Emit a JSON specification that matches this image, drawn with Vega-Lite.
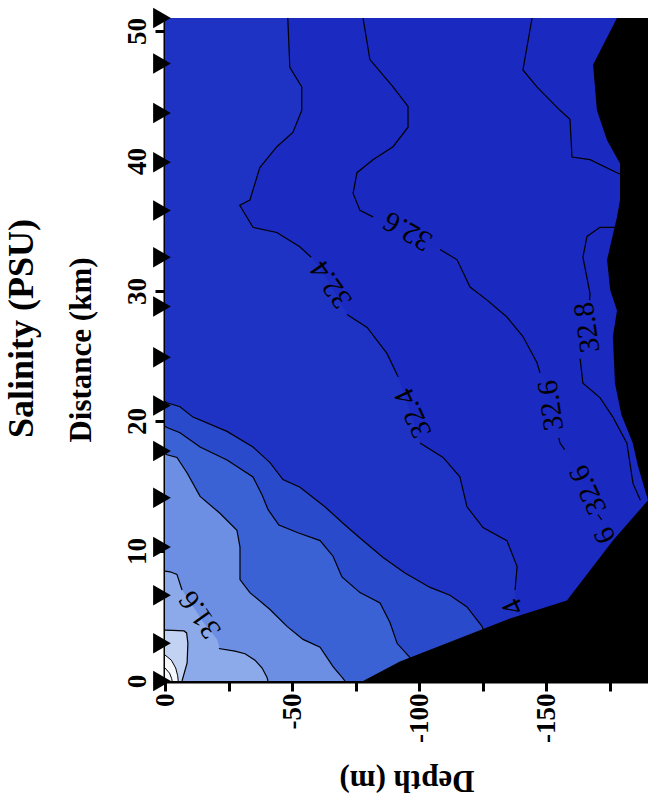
{
  "$schema": "https://vega.github.io/schema/vega-lite/v6.json",
  "width": 483,
  "height": 663,
  "autosize": "none",
  "padding": {"left": 165, "top": 18, "right": 0, "bottom": 119},
  "background": "white",
  "title": {"text": "Salinity (PSU)", "orient": "left", "anchor": "middle", "font": "Liberation Serif", "fontWeight": "bold", "fontSize": 36, "color": "black", "offset": 24, "dx": 21},
  "config": {
    "view": {"stroke": null, "fill": "#1a29bf"},
    "axis": {"labelFont": "Liberation Serif", "labelFontWeight": "bold", "labelFontSize": 27, "labelColor": "black", "titleFont": "Liberation Serif", "titleFontWeight": "bold", "titleFontSize": 31, "titleColor": "black", "domainColor": "black", "domainWidth": 4, "tickColor": "black", "tickWidth": 3, "tickSize": 10, "grid": false}
  },
  "datasets": {
    "terrain": [
      {"km": 0, "d": -77.9}, {"km": 1.5, "d": -92.4}, {"km": 4.8, "d": -135.7}, {"km": 6.2, "d": -158.1}, {"km": 10.8, "d": -176.2}, {"km": 13.9, "d": -190}, {"km": 16.5, "d": -186.1}, {"km": 18.3, "d": -184}, {"km": 20.5, "d": -179.5}, {"km": 22.9, "d": -177}, {"km": 26.5, "d": -176.2}, {"km": 28.5, "d": -177.8}, {"km": 30.1, "d": -175.1}, {"km": 32.4, "d": -173.9}, {"km": 35.7, "d": -177.8}, {"km": 37, "d": -179}, {"km": 39.8, "d": -179}, {"km": 41.6, "d": -173.9}, {"km": 43.9, "d": -169.9}, {"km": 47.4, "d": -168.4}, {"km": 51, "d": -177.8}
    ],
    "b326": [
      {"km": 0, "d": -190}, {"km": 10.0, "d": -190}, {"km": 10.5, "d": -178}, {"km": 12.9, "d": -171.1}, {"km": 14.7, "d": -166}, {"km": 16.5, "d": -161.3}, {"km": 17.8, "d": -157.4}, {"km": 18.3, "d": -155.4}, {"km": 19.1, "d": -154.6}, {"km": 21.2, "d": -151.5}, {"km": 23.3, "d": -149.5}, {"km": 23.7, "d": -147.5}, {"km": 24.5, "d": -146.3}, {"km": 26.5, "d": -140.8}, {"km": 28.0, "d": -134.5}, {"km": 29.3, "d": -126.7}, {"km": 30.3, "d": -120.0}, {"km": 32.4, "d": -114.9}, {"km": 33.2, "d": -108.2}, {"km": 34.2, "d": -96}, {"km": 35.5, "d": -84.6}, {"km": 35.7, "d": -81.8}, {"km": 36.2, "d": -76.7}, {"km": 37.5, "d": -74.0}, {"km": 39.1, "d": -75.5}, {"km": 40.1, "d": -81.8}, {"km": 41.1, "d": -89.7}, {"km": 42.6, "d": -95.6}, {"km": 44.2, "d": -95.6}, {"km": 45.7, "d": -89.7}, {"km": 47.8, "d": -80.6}, {"km": 51, "d": -77.9}
    ],
    "b324": [
      {"km": 0, "d": -150}, {"km": 4.5, "d": -145}, {"km": 5.3, "d": -138}, {"km": 7.0, "d": -137.7}, {"km": 8.8, "d": -138.5}, {"km": 10.8, "d": -134.5}, {"km": 11.8, "d": -125.1}, {"km": 13.4, "d": -118.8}, {"km": 15.7, "d": -116}, {"km": 17.2, "d": -109.4}, {"km": 18.3, "d": -100.3}, {"km": 20.8, "d": -96.3}, {"km": 23.4, "d": -91.7}, {"km": 25.2, "d": -87.3}, {"km": 27.2, "d": -79.5}, {"km": 28.2, "d": -71.6}, {"km": 30.5, "d": -65}, {"km": 32.5, "d": -58.1}, {"km": 33.4, "d": -53}, {"km": 34.5, "d": -44}, {"km": 34.9, "d": -34.6}, {"km": 36.6, "d": -29.4}, {"km": 37, "d": -33.4}, {"km": 39.5, "d": -37.3}, {"km": 41.1, "d": -44}, {"km": 42.2, "d": -50.3}, {"km": 43.9, "d": -53.8}, {"km": 45.7, "d": -53.8}, {"km": 47.2, "d": -49.1}, {"km": 51, "d": -48.3}
    ],
    "b322": [
      {"km": 0, "d": -130}, {"km": 3.0, "d": -127}, {"km": 4.2, "d": -124.7}, {"km": 5.7, "d": -118.8}, {"km": 6.6, "d": -112.1}, {"km": 7.2, "d": -104.3}, {"km": 8.3, "d": -94.4}, {"km": 9.5, "d": -85.8}, {"km": 11.0, "d": -76.7}, {"km": 12.0, "d": -70.8}, {"km": 13.4, "d": -62.9}, {"km": 14.9, "d": -53.1}, {"km": 15.5, "d": -46.4}, {"km": 16.8, "d": -41.3}, {"km": 18.0, "d": -34.6}, {"km": 19.2, "d": -24.4}, {"km": 20.3, "d": -11.0}, {"km": 21.1, "d": -5.9}, {"km": 21.4, "d": -0.8}, {"km": 21.5, "d": 0}
    ],
    "b320": [
      {"km": 0, "d": -103}, {"km": 1.0, "d": -100}, {"km": 1.8, "d": -96.4}, {"km": 2.9, "d": -91.3}, {"km": 4.5, "d": -88.5}, {"km": 6.0, "d": -84.6}, {"km": 6.8, "d": -76.7}, {"km": 8.0, "d": -69.6}, {"km": 9.6, "d": -66.1}, {"km": 10.8, "d": -61.0}, {"km": 11.4, "d": -52.3}, {"km": 12.0, "d": -44.8}, {"km": 13.2, "d": -40.5}, {"km": 14.3, "d": -38.2}, {"km": 15.7, "d": -34.6}, {"km": 17.0, "d": -24.4}, {"km": 18.0, "d": -13.8}, {"km": 19.1, "d": -5.9}, {"km": 19.5, "d": -0.8}, {"km": 19.6, "d": 0}
    ],
    "b318": [
      {"km": 0, "d": -70.8}, {"km": 0.2, "d": -70.0}, {"km": 1.1, "d": -66.1}, {"km": 2.6, "d": -61.0}, {"km": 3.2, "d": -54.3}, {"km": 4.2, "d": -48.0}, {"km": 5.5, "d": -41.3}, {"km": 6.8, "d": -33.4}, {"km": 7.8, "d": -29.5}, {"km": 10.3, "d": -29.5}, {"km": 11.6, "d": -28.3}, {"km": 12.9, "d": -21.6}, {"km": 14.2, "d": -13.8}, {"km": 16.0, "d": -8.7}, {"km": 17.2, "d": -4.7}, {"km": 17.4, "d": -0.8}, {"km": 17.5, "d": 0}
    ],
    "b316": [
      {"km": 0, "d": -40.5}, {"km": 0.3, "d": -40.1}, {"km": 1.0, "d": -38.2}, {"km": 1.6, "d": -35.4}, {"km": 2.1, "d": -31.5}, {"km": 2.3, "d": -27.5}, {"km": 2.4, "d": -21.6}, {"km": 3.2, "d": -20.5}, {"km": 4.4, "d": -15.5}, {"km": 5.6, "d": -11.5}, {"km": 7.0, "d": -6.7}, {"km": 8.2, "d": -4.7}, {"km": 8.4, "d": -2.0}, {"km": 8.45, "d": 0}
    ],
    "b314": [
      {"km": 0, "d": -6.7}, {"km": 1.4, "d": -8.7}, {"km": 2.9, "d": -9.0}, {"km": 3.7, "d": -8.5}, {"km": 3.85, "d": -7.5}, {"km": 3.9, "d": -3}, {"km": 3.92, "d": 0}
    ],
    "b312": [
      {"km": 0, "d": -5.2}, {"km": 0.4, "d": -5.0}, {"km": 1.0, "d": -4.2}, {"km": 1.6, "d": -2.5}, {"km": 2.0, "d": 0}
    ],
    "arcs": [
      {"seg": "a", "km": 2.0, "d": 0}, {"seg": "a", "km": 1.6, "d": -2.5}, {"seg": "a", "km": 1.0, "d": -4.2}, {"seg": "a", "km": 0.4, "d": -5.0}, {"seg": "a", "km": 0, "d": -5.2},
      {"seg": "b", "km": 1.0, "d": 0}, {"seg": "b", "km": 0.6, "d": -1.8}, {"seg": "b", "km": 0.2, "d": -2.6}, {"seg": "b", "km": 0, "d": -2.8}
    ],
    "l316": [
      {"seg": "a", "km": 8.45, "d": 0}, {"seg": "a", "km": 8.4, "d": -2.0}, {"seg": "a", "km": 8.2, "d": -4.7}, {"seg": "a", "km": 7.0, "d": -6.7},
      {"seg": "b", "km": 2.5, "d": -21.2}, {"seg": "b", "km": 2.3, "d": -27.5}, {"seg": "b", "km": 2.1, "d": -31.5}, {"seg": "b", "km": 1.6, "d": -35.4}, {"seg": "b", "km": 1.0, "d": -38.2}, {"seg": "b", "km": 0.3, "d": -40.1}, {"seg": "b", "km": 0, "d": -40.5}
    ],
    "l324": [
      {"seg": "a", "km": 51, "d": -48.3}, {"seg": "a", "km": 47.2, "d": -49.1}, {"seg": "a", "km": 45.7, "d": -53.8}, {"seg": "a", "km": 43.9, "d": -53.8}, {"seg": "a", "km": 42.2, "d": -50.3}, {"seg": "a", "km": 41.1, "d": -44}, {"seg": "a", "km": 39.5, "d": -37.3}, {"seg": "a", "km": 37, "d": -33.4}, {"seg": "a", "km": 36.6, "d": -29.4}, {"seg": "a", "km": 34.9, "d": -34.6}, {"seg": "a", "km": 34.5, "d": -44}, {"seg": "a", "km": 33.4, "d": -53}, {"seg": "a", "km": 32.6, "d": -57.5},
      {"seg": "b", "km": 28.2, "d": -71.6}, {"seg": "b", "km": 27.2, "d": -79.5}, {"seg": "b", "km": 25.2, "d": -87.3}, {"seg": "b", "km": 23.4, "d": -91.7},
      {"seg": "c", "km": 18.3, "d": -100.3}, {"seg": "c", "km": 17.2, "d": -109.4}, {"seg": "c", "km": 15.7, "d": -116}, {"seg": "c", "km": 13.4, "d": -118.8}, {"seg": "c", "km": 11.8, "d": -125.1}, {"seg": "c", "km": 10.8, "d": -134.5}, {"seg": "c", "km": 8.8, "d": -138.5}, {"seg": "c", "km": 7.0, "d": -137.7}
    ],
    "l326": [
      {"seg": "a", "km": 51, "d": -77.9}, {"seg": "a", "km": 47.8, "d": -80.6}, {"seg": "a", "km": 45.7, "d": -89.7}, {"seg": "a", "km": 44.2, "d": -95.6}, {"seg": "a", "km": 42.6, "d": -95.6}, {"seg": "a", "km": 41.1, "d": -89.7}, {"seg": "a", "km": 40.1, "d": -81.8}, {"seg": "a", "km": 39.1, "d": -75.5}, {"seg": "a", "km": 37.5, "d": -74.0}, {"seg": "a", "km": 36.2, "d": -76.7}, {"seg": "a", "km": 35.7, "d": -81.8},
      {"seg": "b", "km": 33.2, "d": -108.2}, {"seg": "b", "km": 32.4, "d": -114.9}, {"seg": "b", "km": 30.3, "d": -120.0}, {"seg": "b", "km": 29.3, "d": -126.7}, {"seg": "b", "km": 28.0, "d": -134.5}, {"seg": "b", "km": 26.5, "d": -140.8}, {"seg": "b", "km": 24.5, "d": -146.3}, {"seg": "b", "km": 23.7, "d": -147.5},
      {"seg": "c", "km": 18.7, "d": -154.9}, {"seg": "c", "km": 18.3, "d": -155.4}, {"seg": "c", "km": 17.8, "d": -157.2},
      {"seg": "d", "km": 12.8, "d": -170.3}, {"seg": "d", "km": 12.4, "d": -171.8}
    ],
    "l328": [
      {"seg": "a", "km": 51, "d": -144.4}, {"seg": "a", "km": 47, "d": -140.8}, {"seg": "a", "km": 45.7, "d": -146.3}, {"seg": "a", "km": 43.9, "d": -155.4}, {"seg": "a", "km": 43.2, "d": -159.3}, {"seg": "a", "km": 40.3, "d": -160.1}, {"seg": "a", "km": 40.1, "d": -167.2}, {"seg": "a", "km": 39.1, "d": -177.8}, {"seg": "a", "km": 38.9, "d": -180},
      {"seg": "b", "km": 34.9, "d": -178}, {"seg": "b", "km": 34.9, "d": -171.1}, {"seg": "b", "km": 34.2, "d": -166.0}, {"seg": "b", "km": 32.6, "d": -164.4}, {"seg": "b", "km": 29.8, "d": -167.2}, {"seg": "b", "km": 29.3, "d": -167.0},
      {"seg": "c", "km": 24.8, "d": -163.3}, {"seg": "c", "km": 22.9, "d": -164.4}, {"seg": "c", "km": 21.8, "d": -171.1}, {"seg": "c", "km": 20.3, "d": -176.2}, {"seg": "c", "km": 18.3, "d": -181.7}, {"seg": "c", "km": 15.2, "d": -184.1}, {"seg": "c", "km": 13.9, "d": -187}
    ],
    "labels": [
      {"id": "a", "t": "31.6", "km": 5.1, "d": -13.8},
      {"id": "b", "t": "32.4", "km": 30.5, "d": -65.3},
      {"id": "c", "t": "32.4", "km": 20.6, "d": -97.6},
      {"id": "d", "t": "4", "km": 5.7, "d": -136.9},
      {"id": "e", "t": "32.6", "km": 34.6, "d": -95.5},
      {"id": "f", "t": "32.6", "km": 21.2, "d": -151.8},
      {"id": "g", "t": "32.6", "km": 14.7, "d": -166.4},
      {"id": "h", "t": "6", "km": 11.2, "d": -173.1},
      {"id": "i", "t": "32.8", "km": 27.2, "d": -166}
    ],
    "stations": [
      {"km": 0, "d": 0}, {"km": 2.9, "d": 0}, {"km": 6.6, "d": 0}, {"km": 10.3, "d": 0}, {"km": 14.1, "d": 0}, {"km": 17.7, "d": 0}, {"km": 21.2, "d": 0}, {"km": 24.9, "d": 0}, {"km": 28.8, "d": 0}, {"km": 32.6, "d": 0}, {"km": 36.2, "d": 0}, {"km": 39.9, "d": 0}, {"km": 43.7, "d": 0}, {"km": 47.5, "d": 0}, {"km": 51, "d": 0}
    ]
  },
  "encoding": {
    "x": {"field": "d", "type": "quantitative", "scale": {"domain": [0, -190], "nice": false, "zero": false},
      "axis": {"title": "Depth (m)", "titleAngle": 180, "titlePadding": 52, "values": [0, -25, -50, -75, -100, -125, -150, -175], "labelExpr": "datum.value % 50 == 0 ? '' + datum.value : ''", "labelAngle": 270, "labelPadding": 2}},
    "y": {"field": "km", "type": "quantitative", "scale": {"domain": [0, 51], "nice": false, "zero": false},
      "axis": {"title": "Distance (km)", "titleAngle": 270, "titlePadding": 26, "values": [0, 10, 20, 30, 40, 50], "labelAngle": 270, "labelPadding": 4}}
  },
  "layer": [
    {"data": {"name": "b326"}, "mark": {"type": "area", "orient": "horizontal", "color": "#1b2bc1"}, "encoding": {"x2": {"datum": 0}}},
    {"data": {"name": "b324"}, "mark": {"type": "area", "orient": "horizontal", "color": "#1e33c3"}, "encoding": {"x2": {"datum": 0}}},
    {"data": {"name": "b322"}, "mark": {"type": "area", "orient": "horizontal", "color": "#2a4acc"}, "encoding": {"x2": {"datum": 0}}},
    {"data": {"name": "b320"}, "mark": {"type": "area", "orient": "horizontal", "color": "#3a62d5"}, "encoding": {"x2": {"datum": 0}}},
    {"data": {"name": "b318"}, "mark": {"type": "area", "orient": "horizontal", "color": "#6d8fe3"}, "encoding": {"x2": {"datum": 0}}},
    {"data": {"name": "b316"}, "mark": {"type": "area", "orient": "horizontal", "color": "#8caaea"}, "encoding": {"x2": {"datum": 0}}},
    {"data": {"name": "b314"}, "mark": {"type": "area", "orient": "horizontal", "color": "#c2d2f3"}, "encoding": {"x2": {"datum": 0}}},
    {"data": {"name": "b312"}, "mark": {"type": "area", "orient": "horizontal", "color": "#f5f7fd"}, "encoding": {"x2": {"datum": 0}}},
    {"data": {"name": "b322"}, "mark": {"type": "line", "color": "black", "strokeWidth": 1.2, "clip": true}, "encoding": {"order": {"value": null}}},
    {"data": {"name": "b320"}, "mark": {"type": "line", "color": "black", "strokeWidth": 1.2, "clip": true}, "encoding": {"order": {"value": null}}},
    {"data": {"name": "b318"}, "mark": {"type": "line", "color": "black", "strokeWidth": 1.2, "clip": true}, "encoding": {"order": {"value": null}}},
    {"data": {"name": "b314"}, "mark": {"type": "line", "color": "black", "strokeWidth": 1.2, "clip": true}, "encoding": {"order": {"value": null}}},
    {"data": {"name": "arcs"}, "mark": {"type": "line", "color": "black", "strokeWidth": 1, "clip": true}, "encoding": {"detail": {"field": "seg"}, "order": {"value": null}}},
    {"data": {"name": "l316"}, "mark": {"type": "line", "color": "black", "strokeWidth": 1.2, "clip": true}, "encoding": {"detail": {"field": "seg"}, "order": {"value": null}}},
    {"data": {"name": "l324"}, "mark": {"type": "line", "color": "black", "strokeWidth": 1.2, "clip": true}, "encoding": {"detail": {"field": "seg"}, "order": {"value": null}}},
    {"data": {"name": "l326"}, "mark": {"type": "line", "color": "black", "strokeWidth": 1.2, "clip": true}, "encoding": {"detail": {"field": "seg"}, "order": {"value": null}}},
    {"data": {"name": "l328"}, "mark": {"type": "line", "color": "black", "strokeWidth": 1.2, "clip": true}, "encoding": {"detail": {"field": "seg"}, "order": {"value": null}}},
    {"data": {"name": "labels"}, "transform": [{"filter": {"field": "id", "oneOf": ["a", "b"]}}], "mark": {"type": "text", "font": "Liberation Serif", "fontSize": 29, "angle": 235, "align": "center", "baseline": "middle", "color": "black"}, "encoding": {"text": {"field": "t"}}},
    {"data": {"name": "labels"}, "transform": [{"filter": {"field": "id", "oneOf": ["c", "d", "g", "h"]}}], "mark": {"type": "text", "font": "Liberation Serif", "fontSize": 29, "angle": 245, "align": "center", "baseline": "middle", "color": "black"}, "encoding": {"text": {"field": "t"}}},
    {"data": {"name": "labels"}, "transform": [{"filter": {"field": "id", "oneOf": ["e"]}}], "mark": {"type": "text", "font": "Liberation Serif", "fontSize": 29, "angle": 210, "align": "center", "baseline": "middle", "color": "black"}, "encoding": {"text": {"field": "t"}}},
    {"data": {"name": "labels"}, "transform": [{"filter": {"field": "id", "oneOf": ["f", "i"]}}], "mark": {"type": "text", "font": "Liberation Serif", "fontSize": 29, "angle": 262, "align": "center", "baseline": "middle", "color": "black"}, "encoding": {"text": {"field": "t"}}},
    {"data": {"name": "terrain"}, "mark": {"type": "area", "orient": "horizontal", "color": "black"}, "encoding": {"x2": {"datum": -190}}},
    {"data": {"name": "stations"}, "mark": {"type": "point", "shape": "triangle-right", "filled": true, "fill": "black", "stroke": null, "size": 420, "opacity": 1, "xOffset": -3, "clip": false}, "encoding": {}}
  ]
}
